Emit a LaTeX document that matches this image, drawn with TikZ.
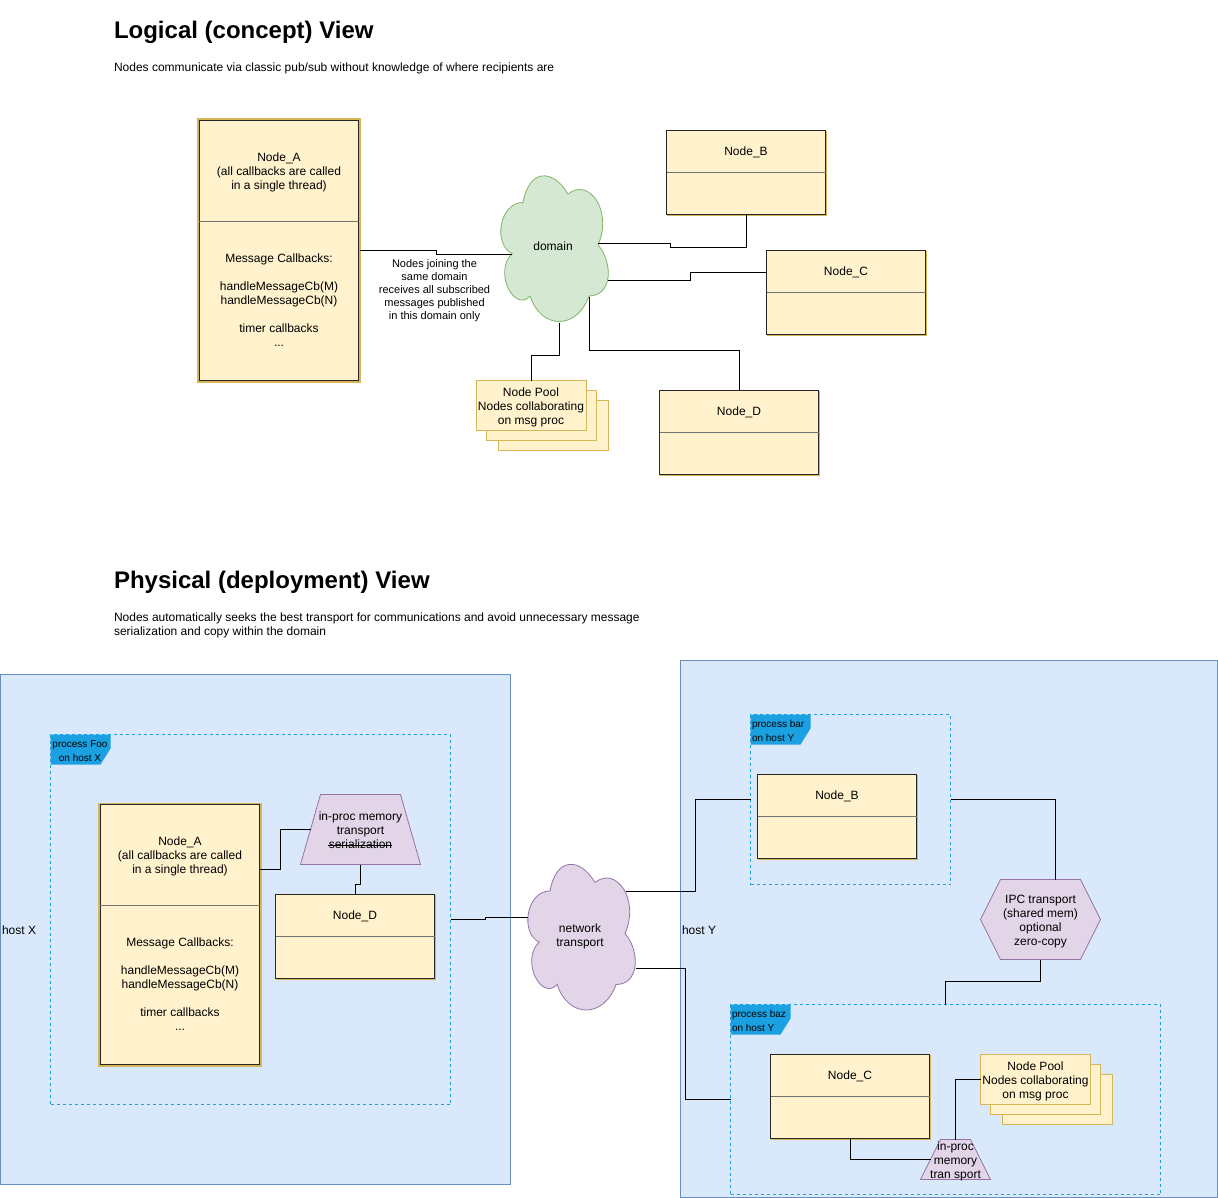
\documentclass[tikz,border=0pt]{standalone}
\usepackage{fontspec}
\setmainfont{Liberation Sans}

\definecolor{nodefill}{HTML}{FFF2CC}
\definecolor{nodeline}{HTML}{D6B656}
\definecolor{hostfill}{HTML}{DAE8FC}
\definecolor{hostline}{HTML}{6C8EBF}
\definecolor{procline}{HTML}{1BA1E2}
\definecolor{transfill}{HTML}{E1D5E7}
\definecolor{transline}{HTML}{9673A6}
\definecolor{domainfill}{HTML}{D5E8D4}
\definecolor{domainline}{HTML}{82B366}

% name, top left corner, text, style, text position
\newcommand{\cloudnode}[5]{
  \begin{scope}[shift={(#2)}, x=120pt, y=-170pt]
    \draw[#4] (.25,.25) .. controls (.05,.25) and (0,.5) .. (.16,.55)
      .. controls (0,.66) and (.18,.9) .. (.31,.8)
      .. controls (.4,1) and (.7,1) .. (.8,.8)
      .. controls (1,.8) and (1,.6) .. (.875,.5)
      .. controls (1,.3) and (.8,.1) .. (.625,.2)
      .. controls (.5,.05) and (.3,.05) .. (.25,.25) -- cycle;
  \end{scope}
  \node (#1) at (#5) {#3};
}

\begin{document}
\begin{tikzpicture}[
    x=1pt, y=-1pt,
    every node/.style={inner sep=0pt, outer sep=0pt, font=\fontsize{12pt}{14pt}\selectfont, align=center},
    link/.style={draw, line width=0.9pt},
    headline/.style={anchor=west, font=\fontsize{24pt}{28pt}\selectfont\bfseries},
    bodytext/.style={anchor=west, align=left},
    hostbox/.style={draw=hostline, fill=hostfill, line width=0.8pt},
    procbox/.style={draw=procline, dashed, line width=0.8pt},
    tagfill/.style={fill=procline},
    tagtext/.style={font=\fontsize{10pt}{14pt}\selectfont},
    nodebox/.style={draw=black!85, fill=nodefill, line width=0.9pt, minimum width=159pt, minimum height=84pt},
    nodehalo/.style={draw=nodeline, line width=0.9pt, minimum width=159pt, minimum height=84pt},
    threadbox/.style={nodebox, minimum width=159.5pt, minimum height=259.5pt},
    threadhalo/.style={draw=nodeline, line width=2.4pt, fill=nodefill, minimum width=161.6pt, minimum height=261.6pt},
    divider/.style={draw=black!55, line width=0.7pt},
    poolbox/.style={draw=nodeline, fill=nodefill, line width=0.9pt, minimum width=110pt, minimum height=50pt},
    transbox/.style={draw=transline, fill=transfill, line width=0.8pt},
    note/.style={font=\fontsize{11pt}{13pt}\selectfont}
    ]
    \useasboundingbox (0,0) rectangle (1218,1198);

    \node[headline] (logicalT) at (114,32) {Logical (concept) View};
    \node[bodytext] (logicalS) at (114,68) {Nodes communicate via classic pub/sub without knowledge of where recipients are};
    \node[headline] (physicalT) at (114,582) {Physical (deployment) View};
    \node[bodytext] (physicalS) at (114,625) {Nodes automatically seeks the best transport for communications and avoid unnecessary message\\serialization and copy within the domain};

    % hosts and processes
    \node[hostbox, minimum width=510pt, minimum height=510.5pt] (hostX) at (255.5,929.5) {};
    \node[hostbox, minimum width=537.5pt, minimum height=537pt] (hostY) at (949,929) {};
    \node[bodytext] (hostXT) at (2,930) {host X};
    \node[bodytext] (hostYT) at (682,930) {host Y};
    \node[procbox, minimum width=400pt, minimum height=370pt] (procFoo) at (250.5,919.5) {};
    \node[procbox, minimum width=200pt, minimum height=170pt] (procBar) at (850.5,799.5) {};
    \node[procbox, minimum width=430pt, minimum height=190pt] (procBaz) at (945.5,1099.5) {};
    \foreach \px/\py in {50.5/734.5, 750.5/714.5, 730.5/1004.5}
      \fill[tagfill] (\px,\py) -- ++(60,0) -- ++(0,14) -- ++(-10,16) -- ++(-50,0) -- cycle;
    \node[tagtext] (tagFoo) at (80,751) {process Foo\\on host X};
    \node[tagtext, anchor=west, align=left] (tagBar) at (752,731) {process bar\\on host Y};
    \node[tagtext, anchor=west, align=left] (tagBaz) at (732,1021) {process baz\\on host Y};

    % nodes with callbacks
    \foreach \nm/\px/\py in {logA/279/250.5, phyA/180/934.5} {
      \node[threadhalo] (\nm H) at (\px,\py) {};
      \node[threadbox] (\nm) at (\px,\py) {};
      \draw[divider] ([yshift=29pt]\nm.west) -- ([yshift=29pt]\nm.east);
      \node (\nm T) at ([yshift=78.5pt]\nm.center) {Node\_A\\(all callbacks are called\\in a single thread)};
      \node (\nm M) at ([yshift=-50pt]\nm.center) {Message Callbacks:\\[14pt]handleMessageCb(M)\\handleMessageCb(N)\\[14pt]timer callbacks\\...};
    }

    % plain nodes
    \foreach \nm/\lbl/\px/\py in {logB/B/746/172.5, logC/C/846/292.5, logD/D/739/432.5, phyD/D/355/936.5, phyB/B/837/816.5, phyC/C/850/1096.5} {
      \node[nodehalo] (\nm H) at (\px+0.5,\py+0.5) {};
      \node[nodebox] (\nm) at (\px,\py) {};
      \draw[divider] (\nm.west) -- (\nm.east);
      \node (\nm T) at ([yshift=20.5pt]\nm.center) {Node\_\lbl};
    }

    % node pools
    \foreach \nm/\px/\py in {logP/531/405.5, phyP/1035.5/1079.5} {
      \node[poolbox] (\nm3) at (\px+22,\py+20) {};
      \node[poolbox] (\nm2) at (\px+10,\py+10) {};
      \node[poolbox] (\nm) at (\px,\py) {};
      \node (\nm T) at (\px,\py+2) {Node Pool\\Nodes collaborating\\on msg proc};
    }

    % clouds
    \cloudnode{domain}{493,160}{domain}{draw=domainline, fill=domainfill, line width=0.8pt}{553,246}
    \cloudnode{network}{520,848.5}{network\\transport}{draw=transline, fill=transfill, line width=0.8pt}{580,936}
    \coordinate (domainW) at (511.5,254);
    \coordinate (domainE) at (598,243);
    \coordinate (domainR) at (608,280);
    \coordinate (domainB) at (589,297);
    \coordinate (domainS) at (559,322.5);
    \coordinate (networkW) at (528,917);
    \coordinate (networkE) at (625.5,891.5);
    \coordinate (networkR) at (636,968);

    % transports
    \filldraw[transbox] (320.5,794.5) -- (400.5,794.5) -- (420.5,864.5) -- (300.5,864.5) -- cycle;
    \node[minimum width=120pt, minimum height=70pt] (trapFoo) at (360.5,829.5) {};
    \node (trapFooT) at (360.5,830.5) {in-proc memory\\transport\\serialization};
    \coordinate (trapFooW) at (310.5,829.5);
    \draw[line width=0.8pt] (328,845) -- (392,845);
    \filldraw[transbox] (940.5,1139.5) -- (970.5,1139.5) -- (990.5,1179.5) -- (920.5,1179.5) -- cycle;
    \node[minimum width=70pt, minimum height=40pt] (trapBaz) at (955.5,1161) {in-proc\\memory\\tran sport};
    \coordinate (trapBazW) at (930.5,1159.5);
    \filldraw[transbox] (1000.5,879.5) -- (1080.5,879.5) -- (1100.5,919.5) -- (1080.5,959.5) -- (1000.5,959.5) -- (980.5,919.5) -- cycle;
    \node[minimum width=120pt, minimum height=80pt] (ipc) at (1040.5,922) {IPC transport\\(shared mem)\\optional\\zero-copy};

    \node[note] (joinNote) at (434.5,291) {Nodes joining the\\same domain\\receives all subscribed\\messages published\\in this domain only};

    % logical connectors
    \draw[link] (logAH.east) -- (436,250.5) |- (domainW);
    \draw[link] (logB.south) |- (670,247) |- (domainE);
    \draw[link] (logC.west |- 0,272) -- (690,272) |- (domainR);
    \draw[link] (logD.north) |- (domainB |- 0,350.5) -- (domainB);
    \draw[link] (logP.north) |- (domainS |- 0,355) -- (domainS);

    % physical connectors
    \draw[link] (phyA.east |- 0,869.5) -| (280.5,829.5) -- (trapFooW);
    \draw[link] (trapFoo.south) |- (phyD.north |- 0,884) -- (phyD.north);
    \draw[link] (procFoo.east) -- (485.5,919.5) |- (networkW);
    \draw[link] (networkE) -| (695.5,799.5) -- (procBar.west);
    \draw[link] (networkR) -| (685.5,1099.5) -- (procBaz.west);
    \draw[link] (procBar.east) -| (1055.5,879.5);
    \draw[link] (1040.5,959.5) |- (procBaz.north |- 0,981.5) -- (procBaz.north);
    \draw[link] (phyC.south) |- (trapBazW);
    \draw[link] (955.5,1139.5) |- (phyP.west);
\end{tikzpicture}
\end{document}
